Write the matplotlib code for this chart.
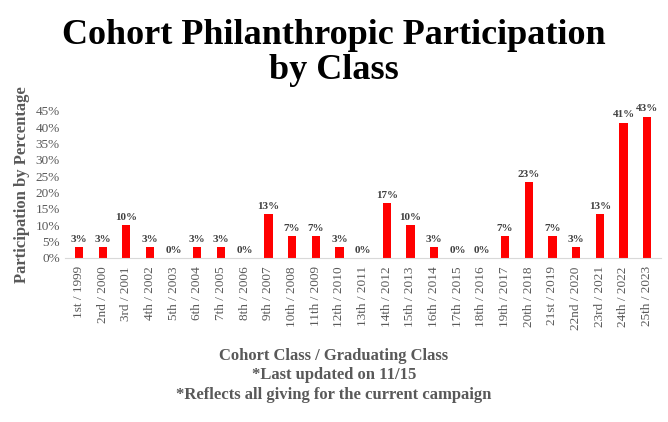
import matplotlib
matplotlib.use("Agg")
import matplotlib.pyplot as plt
from matplotlib.ticker import PercentFormatter

categories = ["1st / 1999","2nd / 2000","3rd / 2001","4th / 2002","5th / 2003","6th / 2004","7th / 2005",
              "8th / 2006","9th / 2007","10th / 2008","11th / 2009","12th / 2010","13th / 2011","14th / 2012",
              "15th / 2013","16th / 2014","17th / 2015","18th / 2016","19th / 2017","20th / 2018","21st / 2019",
              "22nd / 2020","23rd / 2021","24th / 2022","25th / 2023"]
values = [3.3,3.3,10,3.3,0,3.3,3.3,0,13.3,6.7,6.7,3.3,0,16.7,10,3.3,0,0,6.7,23.3,6.7,3.3,13.3,41.4,43.3]

plt.rcParams["font.family"] = "Liberation Serif"
fig = plt.figure(figsize=(6.68, 4.22), dpi=100)
ax = fig.add_axes([0.097, 0.389, 0.893, 0.348])
x = range(len(categories))
ax.bar(x, values, width=0.35, color="#ff0000")
for i, v in zip(x, values):
    ax.text(i, v + 1, f"{round(v)}%", ha="center", va="bottom", fontsize=8, fontweight="bold", color="#404040")
ax.set_ylim(0, 45)
ax.set_yticks(range(0, 46, 5))
ax.yaxis.set_major_formatter(PercentFormatter(decimals=0))
ax.set_xlim(-0.6, len(categories) - 0.4)
ax.set_xticks(list(x))
ax.set_xticklabels(categories, rotation=90, fontsize=9.5, color="#595959")
ax.tick_params(axis="y", labelsize=9.5, labelcolor="#595959", length=0)
ax.tick_params(axis="x", length=0, pad=6)
for s in ["top", "right", "left"]:
    ax.spines[s].set_visible(False)
ax.spines["bottom"].set_color("#d9d9d9")
ax.set_ylabel("Participation by Percentage", fontsize=12, fontweight="bold", color="#595959", labelpad=4)
fig.text(0.5, 0.955, "Cohort Philanthropic Participation\nby Class", ha="center", va="top",
         fontsize=26, fontweight="bold", linespacing=1.1)
fig.text(0.5, 0.111, "Cohort Class / Graduating Class\n*Last updated on 11/15\n*Reflects all giving for the current campaign",
         ha="center", va="center", fontsize=12, fontweight="bold", color="#595959", linespacing=1.3)
fig.savefig("out.png", dpi=100)
